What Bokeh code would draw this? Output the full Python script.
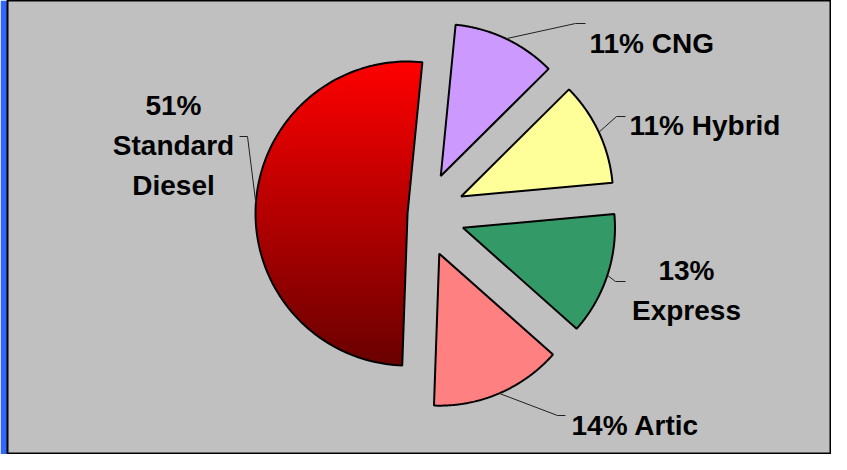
import numpy as np
from bokeh.plotting import figure
from bokeh.models import Range1d
from bokeh.embed import file_html
from bokeh.resources import INLINE
from bokeh.core.properties import value

# ---- data ----
categories = ["CNG", "Hybrid", "Express", "Artic", "Standard Diesel"]
shares = [11, 11, 13, 14, 51]
colors = ["#CC99FF", "#FFFF99", "#339966", "#FF8080", "#FF0000"]
labels = ["11% CNG", "11% Hybrid", "13%\nExpress", "14% Artic", "51%\nStandard\nDiesel"]

# ---- layout / style ----
CX, CY = 430.0, 222.0
RADIUS = 152.0
START_DEG = 5.6
EXPLODE = [42.6, 42.6, 42.6, 42.6, 15.0]
GRAD_TOP = np.array([255, 0, 0])
GRAD_BOT = np.array([106, 0, 0])
LABEL_POS = [(597, 51, "left"), (637, 133, "left"), (694, 278, "center"),
             (579, 433, "left"), (181, 113, "center")]
LEADER_ENDS = [[(583, 31), (593, 31)], [(624, 124), (633, 124)],
               [(623, 289), (633, 289)], [(565, 423), (573, 423)],
               [(255, 144), (247, 144)]]
LINE_GAP = 40

p = figure(width=831, height=454, output_backend="svg", toolbar_location=None,
           x_axis_location=None, y_axis_location=None,
           x_range=Range1d(15, 839), y_range=Range1d(462, 8))
p.min_border = 0
p.min_border_left = 7
p.border_fill_color = "#3366FF"
p.background_fill_color = "#C0C0C0"
p.outline_line_color = "#000000"
p.outline_line_width = 2
p.xgrid.visible = False
p.ygrid.visible = False


def pt(cx, cy, r, deg):
    a = np.radians(deg)
    return cx + r * np.sin(a), cy - r * np.cos(a)


total = float(sum(shares))
polys = []
mids = []
verts = []
a = START_DEG
for s, ex in zip(shares, EXPLODE):
    span = 360.0 * s / total
    a0, a1 = a, a + span
    mid = (a0 + a1) / 2
    vx, vy = pt(CX, CY, ex, mid)
    th = np.linspace(a0, a1, 120)
    ax, ay = pt(vx, vy, RADIUS, th)
    xs = np.concatenate([[vx], ax])
    ys = np.concatenate([[vy], ay])
    polys.append((xs, ys))
    mids.append(mid)
    verts.append((vx, vy))
    a = a1


def clip_half(pts, y_lim, keep_above):
    out = []
    n = len(pts)
    if n == 0:
        return out
    def inside(q):
        return q[1] >= y_lim if keep_above else q[1] <= y_lim
    for i in range(n):
        cur = pts[i]
        prev = pts[i - 1]
        ci, pi = inside(cur), inside(prev)
        if ci:
            if not pi:
                t = (y_lim - prev[1]) / (cur[1] - prev[1])
                out.append((prev[0] + t * (cur[0] - prev[0]), y_lim))
            out.append(cur)
        elif pi:
            t = (y_lim - prev[1]) / (cur[1] - prev[1])
            out.append((prev[0] + t * (cur[0] - prev[0]), y_lim))
    return out


# plain slices
plain_x = [list(polys[i][0]) for i in range(4)]
plain_y = [list(polys[i][1]) for i in range(4)]
p.patches(plain_x, plain_y, fill_color=colors[:4], line_color="#000000", line_width=2)

# gradient red slice
rx, ry = polys[4]
rpts = list(zip(rx, ry))
ymin, ymax = float(np.min(ry)), float(np.max(ry))
nb = int((ymax - ymin) / 2) + 1
bx, by, bc = [], [], []
for k in range(nb):
    y0 = ymin + k * (ymax - ymin) / nb
    y1 = ymin + (k + 1) * (ymax - ymin) / nb + 0.8
    c = clip_half(clip_half(rpts, y0, True), y1, False)
    if len(c) < 3:
        continue
    t = (k + 0.5) / nb
    col = (GRAD_TOP + (GRAD_BOT - GRAD_TOP) * t).astype(int)
    bx.append([q[0] for q in c])
    by.append([q[1] for q in c])
    bc.append("#%02x%02x%02x" % tuple(col))
p.patches(bx, by, fill_color=bc, line_color=None)
p.patch(list(rx), list(ry), fill_alpha=0, line_color="#000000", line_width=2)

# leader lines
lx, ly = [], []
for (vx, vy), mid, ends in zip(verts, mids, LEADER_ENDS):
    sx, sy = pt(vx, vy, RADIUS, mid)
    lx.append([sx] + [e[0] for e in ends])
    ly.append([sy] + [e[1] for e in ends])
p.multi_line(lx, ly, line_color="#202020", line_width=1)

# labels
tx, ty, tt, ta = [], [], [], []
for lab, (x, y, al) in zip(labels, LABEL_POS):
    for j, line in enumerate(lab.split("\n")):
        tx.append(x)
        ty.append(y + j * LINE_GAP)
        tt.append(line)
        ta.append(al)
for al in ("left", "center"):
    idx = [i for i in range(len(tt)) if ta[i] == al]
    p.text([tx[i] for i in idx], [ty[i] for i in idx], text=[tt[i] for i in idx],
           text_font=value("Liberation Sans"), text_font_style="bold",
           text_font_size="28px", text_color="#000000",
           text_align=al, text_baseline="alphabetic")

open("out.html", "w").write(file_html(p, INLINE))
